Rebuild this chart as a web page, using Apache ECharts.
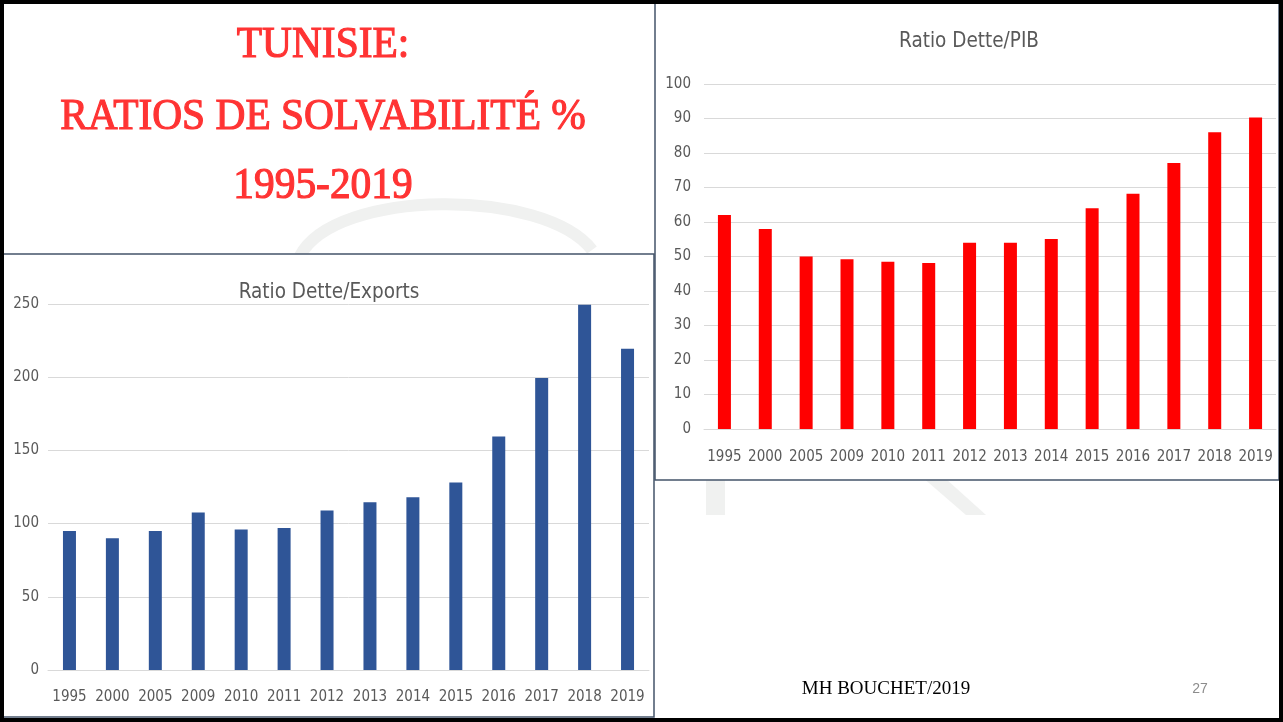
<!DOCTYPE html>
<html lang="fr">
<head>
    <meta charset="UTF-8">
    <title>Tunisie : ratios de solvabilité</title>
    <style>
        html, body { margin: 0; padding: 0; background: #fff; }
        #chart { width: 1283px; height: 722px; }
    </style>
</head>
<body>
    <div id="chart"></div>
<script src="https://cdn.jsdelivr.net/npm/echarts@6/dist/echarts.min.js"></script>
<script>
// categories (années)
const years = ['1995', '2000', '2005', '2009', '2010', '2011', '2012', '2013', '2014', '2015', '2016', '2017', '2018', '2019'];
// Ratio Dette/Exports (%)
const detteExports = [95, 90, 95, 107.5, 96, 97, 109, 114.5, 118, 128, 159.5, 199.5, 249.5, 219.5];
// Ratio Dette/PIB (%)
const dettePib = [62, 58, 50, 49.2, 48.5, 48.1, 54, 54, 55.1, 64, 68.2, 77.1, 86, 90.3];
// axes
const exportsMax = 250, exportsStep = 50;
const pibMax = 100, pibStep = 10;

const titleLines = ['TUNISIE:', 'RATIOS DE SOLVABILITÉ %', '1995-2019'];

const gray = '#595959';
const gridGray = '#D9D9D9';
const narrow = "'Liberation Sans Narrow', 'DejaVu Sans Condensed', sans-serif";
const frame = '#44546A';

function makechart(dom) {
    var myChart = echarts.init(dom, null, { renderer: 'canvas' });

    let graphics = [
        // filigrane du fond
        { type: 'bezierCurve', z: -30, silent: true,
          shape: { x1: 300, y1: 256, cpx1: 335, cpy1: 188, cpx2: 545, cpy2: 188, x2: 592, y2: 250 },
          style: { stroke: '#F0F1F0', lineWidth: 12, fill: null } },
        { type: 'rect', z: -30, silent: true,
          shape: { x: 706, y: 470, width: 19, height: 45 }, style: { fill: '#F0F1F0' } },
        { type: 'polygon', z: -30, silent: true,
          shape: { points: [[914, 470], [936, 470], [986, 515], [966, 515]] }, style: { fill: '#F0F1F0' } },
        // cadres
        { type: 'rect', z: -10, silent: true,
          shape: { x: 3, y: 254, width: 651, height: 463 }, style: { fill: '#fff', stroke: frame, lineWidth: 1.5 } },
        { type: 'rect', z: -10, silent: true,
          shape: { x: 655, y: 3, width: 624, height: 477 }, style: { fill: '#fff', stroke: frame, lineWidth: 1.5 } },
        { type: 'rect', z: 50, silent: true,
          shape: { x: 0, y: 0, width: 1283, height: 722 }, style: { fill: null, stroke: '#000', lineWidth: 8 } },
        // pied de page
        { type: 'text', x: 886, y: 689, silent: true,
          style: { text: 'MH BOUCHET/2019', font: '19px "Liberation Serif", serif', fill: '#000',
                   textAlign: 'center', textVerticalAlign: 'middle', align: 'center', verticalAlign: 'middle' } },
        { type: 'text', x: 1200, y: 689, silent: true,
          style: { text: '27', font: '14px "Liberation Sans", sans-serif', fill: '#8C8C8C',
                   textAlign: 'center', textVerticalAlign: 'middle', align: 'center', verticalAlign: 'middle' } }
    ];
    let titleY = [45, 117, 186];
    titleLines.forEach(function (t, i) {
        graphics.push({
            type: 'text', x: 323, y: titleY[i], scaleX: 0.92, silent: true,
            style: { text: t, font: '45px "Liberation Serif", serif', fill: '#FF3333',
                     stroke: '#FF3333', lineWidth: 1.2,
                     textAlign: 'center', textVerticalAlign: 'middle', align: 'center', verticalAlign: 'middle' }
        });
    });

    let option = {
        animation: false,
        backgroundColor: '#fff',
        title: [{
            text: 'Ratio Dette/Exports',
            left: 324, top: 277, textAlign: 'center',
            textStyle: { fontFamily: narrow, fontSize: 20.5, fontWeight: 'normal', color: gray }
        }, {
            text: 'Ratio Dette/PIB',
            left: 964, top: 26, textAlign: 'center',
            textStyle: { fontFamily: narrow, fontSize: 20.5, fontWeight: 'normal', color: gray }
        }],
        grid: [
            { left: 48, top: 304, width: 601, height: 366 },
            { left: 704, top: 84, width: 572, height: 345 }
        ],
        xAxis: [0, 1].map(function (g) {
            return {
                type: 'category',
                gridIndex: g,
                data: years,
                axisTick: { show: false },
                axisLine: { lineStyle: { color: gridGray, width: 1 } },
                axisLabel: { color: gray, fontFamily: narrow, fontSize: 15, margin: g === 0 ? 20 : 21, interval: 0 }
            };
        }),
        yAxis: [{
            type: 'value', gridIndex: 0, min: 0, max: exportsMax, interval: exportsStep,
            axisLine: { show: false }, axisTick: { show: false },
            axisLabel: { color: gray, fontFamily: narrow, fontSize: 15, margin: 9 },
            splitLine: { lineStyle: { color: gridGray, width: 1 } }
        }, {
            type: 'value', gridIndex: 1, min: 0, max: pibMax, interval: pibStep,
            axisLine: { show: false }, axisTick: { show: false },
            axisLabel: { color: gray, fontFamily: narrow, fontSize: 15, margin: 13 },
            splitLine: { lineStyle: { color: gridGray, width: 1 } }
        }],
        series: [{
            name: 'Ratio Dette/Exports',
            type: 'bar',
            xAxisIndex: 0, yAxisIndex: 0,
            barWidth: 13,
            itemStyle: { color: '#2F5597' },
            data: detteExports
        }, {
            name: 'Ratio Dette/PIB',
            type: 'bar',
            xAxisIndex: 1, yAxisIndex: 1,
            barWidth: 13,
            itemStyle: { color: '#FF0000' },
            data: dettePib
        }],
        graphic: { elements: graphics }
    };

    myChart.setOption(option);
}
window.onload = function () {
    makechart(document.getElementById('chart'));
};
</script>
</body>
</html>
